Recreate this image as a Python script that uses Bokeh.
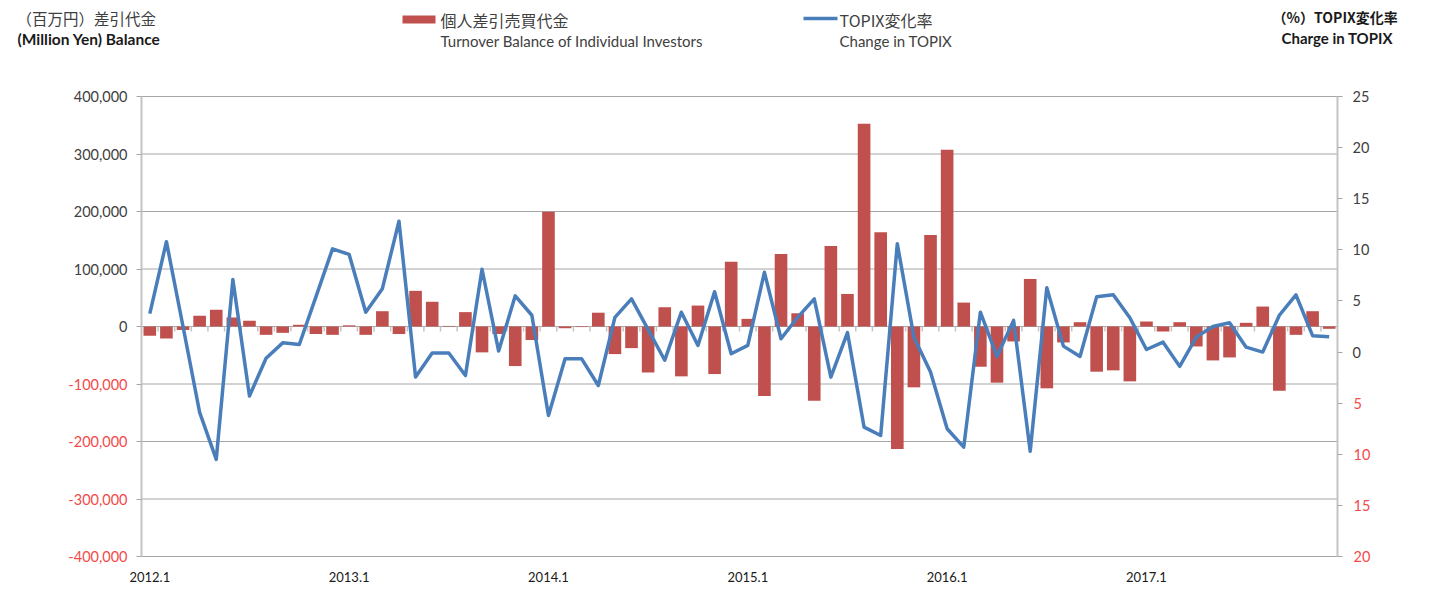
from bokeh.plotting import figure
from bokeh.models import Range1d, LinearAxis, FixedTicker, ColumnDataSource
from bokeh.embed import file_html
from bokeh.resources import INLINE
from bokeh.core.properties import value

# ---------------- data ----------------
year_labels = ["2012.1", "2013.1", "2014.1", "2015.1", "2016.1", "2017.1"]

balance = [  # million yen, monthly 2012.1 - 2017.12
    -16000, -21000, -6000, 18500, 29000, 15600, 10000, -14500, -11000, 3000, -13000, -14500,
    2000, -14500, 26600, -13000, 62000, 43000, 1000, 25000, -45000, -13000, -68800, -23500,
    199500, -3000, -1000, 24000, -48000, -37600, -80000, 33500, -86700, 36400, -82700, 112700,
    13300, -121000, 126000, 23000, -129000, 140000, 56600, 352600, 164000, -213000, -105800, 159000,
    307500, 41600, -70000, -97700, -26000, 82700, -107500, -27700, 7500, -78600, -76300, -95400,
    8700, -8700, 7500, -34700, -59000, -53800, 6400, 34700, -111600, -14500, 26600, -4000,
]

topix = [  # % change
    3.75, 10.8, 2.5, -5.9, -10.5, 7.1, -4.3, -0.6, 0.9, 0.74, 5.4, 10.1,
    9.55, 3.9, 6.2, 12.8, -2.45, -0.1, -0.1, -2.3, 8.1, 0.1, 5.5, 3.6,
    -6.2, -0.66, -0.66, -3.27, 3.4, 5.2, 2.2, -0.8, 3.9, 0.65, 5.9, -0.17,
    0.65, 7.8, 1.3, 3.4, 5.2, -2.45, 1.9, -7.35, -8.16, 10.6, 1.46, -1.96,
    -7.5, -9.3, 3.9, -0.43, 3.1, -9.7, 6.3, 0.58, -0.43, 5.4, 5.6, 3.35,
    0.25, 0.97, -1.4, 1.46, 2.5, 2.87, 0.48, 0.0, 3.6, 5.6, 1.6, 1.5,
]

left_ticks = [-400000, -300000, -200000, -100000, 0, 100000, 200000, 300000, 400000]
right_ticks = [-20, -15, -10, -5, 0, 5, 10, 15, 20, 25]

# ---------------- styles ----------------
BAR = "#C0504D"
LINE = "#4A7EBB"
TXT = "#404040"
NEG = "#F24A4A"
GRID = "#A6A6A6"
AXL = "#C4C4C4"
FONT = "Lato"
CJK = "Noto Sans CJK JP"

W, H = 1429, 590
FL, FR, FT, FB = 141, 1337, 96, 556   # plot area in canvas pixels

n = len(balance)
xs = list(range(n))
x0d, x1d = -0.5, n - 0.5
y0d, y1d = left_ticks[0], left_ticks[-1]
r0d, r1d = right_ticks[0], right_ticks[-1]

def px2x(px):
    return x0d + (px - FL) * (x1d - x0d) / (FR - FL)

def py2y(py):
    return y1d - (py - FT) * (y1d - y0d) / (FB - FT)

def py2r(py):
    return r1d - (py - FT) * (r1d - r0d) / (FB - FT)

p = figure(width=W, height=H,
           x_range=Range1d(px2x(0), px2x(W)), y_range=Range1d(py2y(H), py2y(0)),
           output_backend="svg", toolbar_location=None, min_border=0,
           x_axis_location=None, y_axis_location=None, outline_line_color=None)
p.extra_y_ranges = {"topix": Range1d(py2r(H), py2r(0))}
p.xgrid.visible = False
p.ygrid.visible = False

# horizontal gridlines across the plot area
p.segment(x0=[x0d] * len(left_ticks), x1=[x1d] * len(left_ticks), y0=left_ticks, y1=left_ticks,
          line_color=GRID, line_width=1)

# category tick marks below the zero line
tick_len = 5 * (y1d - y0d) / (FB - FT)
bounds = [i + 0.5 for i in range(n - 1)]
p.segment(x0=bounds, y0=[0] * len(bounds), x1=bounds, y1=[-tick_len] * len(bounds),
          line_color=AXL, line_width=1.5)

# left axis
ya = LinearAxis(ticker=FixedTicker(ticks=left_ticks), fixed_location=x0d, bounds=(y0d, y1d))
ya.major_label_overrides = {t: ("" if t < 0 else f"{t:,}") for t in left_ticks}
ya.major_label_text_font = FONT
ya.major_label_text_font_size = "14.5px"
ya.major_label_text_color = TXT
ya.axis_line_color = AXL
ya.axis_line_width = 2
ya.major_tick_line_color = GRID
ya.major_tick_out = 5
ya.major_tick_in = 0
ya.minor_tick_line_color = None
ya.major_label_standoff = 9
p.add_layout(ya, "left")

neg_left = [t for t in left_ticks if t < 0]
p.text(x=[px2x(FL - 14)] * len(neg_left), y=neg_left, text=[f"{t:,}" for t in neg_left],
       text_align="right", text_baseline="middle", text_color=NEG,
       text_font=value(FONT), text_font_size="14.5px")

# right axis
ra = LinearAxis(y_range_name="topix", ticker=FixedTicker(ticks=right_ticks),
                fixed_location=x1d, bounds=(r0d, r1d))
ra.major_label_overrides = {t: ("" if t < 0 else str(t)) for t in right_ticks}
ra.major_label_text_font = FONT
ra.major_label_text_font_size = "14.5px"
ra.major_label_text_color = TXT
ra.axis_line_color = AXL
ra.axis_line_width = 2
ra.major_tick_line_color = GRID
ra.major_tick_out = 5
ra.major_tick_in = 0
ra.minor_tick_line_color = None
ra.major_label_standoff = 10
p.add_layout(ra, "right")

neg_right = [t for t in right_ticks if t < 0]
p.text(x=[px2x(FR + 16)] * len(neg_right), y=neg_right, text=[str(-t) for t in neg_right],
       y_range_name="topix", text_align="left", text_baseline="middle", text_color=NEG,
       text_font=value(FONT), text_font_size="14.5px")

# bottom axis
jan = [12 * i for i in range(len(year_labels))]
xa = LinearAxis(ticker=FixedTicker(ticks=jan), fixed_location=y0d, bounds=(x0d, x1d))
xa.major_label_overrides = {j: lab for j, lab in zip(jan, year_labels)}
xa.major_label_text_font = FONT
xa.major_label_text_font_size = "13px"
xa.major_label_text_color = "#1a1a1a"
xa.axis_line_color = None
xa.major_tick_line_color = None
xa.minor_tick_line_color = None
xa.major_tick_out = 0
xa.major_tick_in = 0
xa.major_label_standoff = 15
p.add_layout(xa, "below")

# data marks
src = ColumnDataSource(dict(x=xs, bal=balance, tpx=topix))
p.vbar(x="x", top="bal", bottom=0, width=0.76, source=src, fill_color=BAR, line_color=None)
p.line(x="x", y="tpx", source=src, y_range_name="topix", line_color=LINE, line_width=3.5,
       line_join="round")

# header texts and legend
def htext(px, py, t, size, font, color=TXT, style="normal"):
    p.text(x=[px2x(px)], y=[py2y(py)], text=[t], text_font=value(font), text_font_size=size,
           text_color=color, text_baseline="middle", text_align="left", text_font_style=style)

htext(16, 17, "（百万円）差引代金", "15.5px", CJK)
htext(17, 38, "(Million Yen) Balance", "15.5px", FONT, "#1a1a1a", "bold")
p.quad(left=[px2x(402)], right=[px2x(435)], top=[py2y(15)], bottom=[py2y(23)],
       fill_color=BAR, line_color=None)
htext(440, 19, "個人差引売買代金", "16px", CJK)
htext(440, 40, "Turnover Balance of Individual Investors", "15px", FONT)
p.line(x=[px2x(803), px2x(837)], y=[py2y(18), py2y(18)], line_color=LINE, line_width=3.5)
htext(839, 19, "TOPIX変化率", "16px", CJK)
htext(839, 40, "Change in TOPIX", "15px", FONT)
htext(1272, 16, "（%）TOPIX変化率", "14px", CJK, "#1a1a1a", "bold")
htext(1281, 37, "Charge in TOPIX", "15px", FONT, "#1a1a1a", "bold")

open("out.html", "w").write(file_html(p, INLINE))
